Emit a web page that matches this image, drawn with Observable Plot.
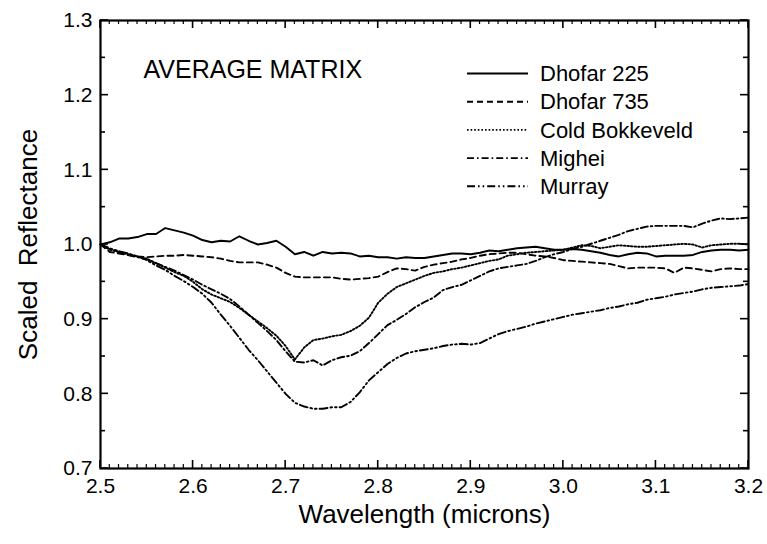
<!DOCTYPE html>
<html>
<head>
<meta charset="utf-8">
<script src="https://cdn.jsdelivr.net/npm/d3@7"></script>
<script src="https://cdn.jsdelivr.net/npm/@observablehq/plot@0.6"></script>
<style>
  body { margin: 0; background: white; }
</style>
</head>
<body>
<div id="chart"></div>
<script>
// ---- data ----
const wavelength = [
  2.50,2.51,2.52,2.53,2.54,2.55,2.56,2.57,2.58,2.59,
  2.60,2.61,2.62,2.63,2.64,2.65,2.66,2.67,2.68,2.69,
  2.70,2.71,2.72,2.73,2.74,2.75,2.76,2.77,2.78,2.79,
  2.80,2.81,2.82,2.83,2.84,2.85,2.86,2.87,2.88,2.89,
  2.90,2.91,2.92,2.93,2.94,2.95,2.96,2.97,2.98,2.99,
  3.00,3.01,3.02,3.03,3.04,3.05,3.06,3.07,3.08,3.09,
  3.10,3.11,3.12,3.13,3.14,3.15,3.16,3.17,3.18,3.19,3.20
];
const dhofar225 = [
  1.000,1.003,1.008,1.008,1.010,1.014,1.014,1.022,1.019,1.016,
  1.012,1.006,1.003,1.005,1.004,1.011,1.005,1.000,1.002,1.005,
  0.997,0.987,0.990,0.985,0.990,0.988,0.989,0.988,0.984,0.985,
  0.983,0.983,0.981,0.983,0.982,0.982,0.984,0.986,0.988,0.988,
  0.987,0.989,0.992,0.991,0.993,0.995,0.996,0.997,0.995,0.993,
  0.993,0.994,0.993,0.991,0.989,0.986,0.984,0.987,0.989,0.988,
  0.984,0.985,0.985,0.985,0.986,0.990,0.992,0.993,0.993,0.992,0.993
];
const dhofar735 = [
  1.000,0.990,0.988,0.986,0.984,0.983,0.984,0.985,0.985,0.986,
  0.985,0.984,0.983,0.981,0.978,0.976,0.976,0.976,0.973,0.969,
  0.962,0.957,0.956,0.956,0.956,0.956,0.954,0.953,0.954,0.955,
  0.957,0.963,0.968,0.967,0.965,0.970,0.973,0.975,0.977,0.980,
  0.982,0.985,0.987,0.988,0.989,0.989,0.987,0.985,0.984,0.982,
  0.979,0.978,0.977,0.976,0.975,0.974,0.971,0.968,0.969,0.969,
  0.969,0.968,0.962,0.969,0.968,0.966,0.964,0.967,0.968,0.967,0.967
];
const coldBokkeveld = [
  1.000,0.993,0.990,0.987,0.984,0.981,0.975,0.969,0.963,0.958,
  0.950,0.940,0.933,0.928,0.923,0.915,0.906,0.897,0.888,0.878,
  0.864,0.846,0.862,0.872,0.874,0.877,0.879,0.884,0.891,0.902,
  0.922,0.934,0.943,0.948,0.953,0.958,0.962,0.964,0.967,0.969,
  0.972,0.975,0.978,0.980,0.985,0.987,0.989,0.990,0.991,0.992,
  0.993,0.996,0.999,0.998,0.995,0.997,0.999,0.998,0.997,0.997,
  0.998,0.999,1.000,1.001,1.000,0.996,0.999,1.000,1.001,1.001,1.000
];
const mighei = [
  1.000,0.994,0.990,0.986,0.983,0.980,0.975,0.970,0.965,0.959,
  0.953,0.946,0.940,0.934,0.927,0.917,0.906,0.895,0.884,0.872,
  0.857,0.843,0.842,0.845,0.838,0.845,0.849,0.851,0.857,0.868,
  0.880,0.892,0.899,0.907,0.916,0.923,0.929,0.939,0.943,0.946,
  0.952,0.958,0.964,0.968,0.970,0.972,0.974,0.978,0.983,0.987,
  0.990,0.994,0.997,1.001,1.005,1.009,1.013,1.018,1.021,1.024,
  1.025,1.025,1.025,1.025,1.023,1.028,1.032,1.035,1.034,1.035,1.036
];
const murray = [
  1.000,0.995,0.991,0.988,0.984,0.979,0.972,0.966,0.958,0.951,
  0.943,0.934,0.922,0.906,0.891,0.875,0.859,0.845,0.830,0.815,
  0.800,0.788,0.783,0.780,0.780,0.782,0.782,0.789,0.802,0.818,
  0.829,0.840,0.848,0.854,0.857,0.859,0.861,0.864,0.866,0.867,
  0.866,0.868,0.874,0.880,0.884,0.887,0.890,0.894,0.897,0.900,
  0.903,0.906,0.908,0.910,0.912,0.915,0.917,0.920,0.922,0.926,
  0.928,0.930,0.933,0.935,0.937,0.940,0.942,0.943,0.944,0.945,0.947
];
const seriesNames = ["Dhofar 225", "Dhofar 735", "Cold Bokkeveld", "Mighei", "Murray"];
const seriesValues = [dhofar225, dhofar735, coldBokkeveld, mighei, murray];
const xTicks = [2.5, 2.6, 2.7, 2.8, 2.9, 3.0, 3.1, 3.2];
const yTicks = [0.7, 0.8, 0.9, 1.0, 1.1, 1.2, 1.3];
const xDomain = [2.5, 3.2];
const yDomain = [0.7, 1.3];
const xLabel = "Wavelength (microns)";
const yLabel = "Scaled  Reflectance";
const annotation = "AVERAGE MATRIX";

// ---- styles ----
const FONT = "'Liberation Sans', Arial, sans-serif";
const dashes = [null, "6,4", "1.6,2", "7,3,1.6,3", "8,3,1.6,3,1.6,3"];
const W = 767, H = 544, mL = 100, mR = 19, mT = 20, mB = 76;

const xMinor = d3.range(250, 321).map(d => d / 100).filter(d => !xTicks.some(t => Math.abs(t - d) < 1e-9));
const yMinor = d3.range(70, 131, 5).map(d => d / 100).filter(d => !yTicks.some(t => Math.abs(t - d) < 1e-9));

const lineMarks = seriesValues.map((vals, i) =>
  Plot.line(wavelength.map((w, j) => ({w, r: vals[j]})), {
    x: "w", y: "r", stroke: "#000", strokeWidth: 1.9,
    strokeDasharray: dashes[i] || undefined
  })
);

const plot = Plot.plot({
  width: W, height: H,
  marginLeft: mL, marginRight: mR, marginTop: mT, marginBottom: mB,
  x: {domain: xDomain},
  y: {domain: yDomain},
  style: {fontFamily: FONT, fontSize: "21px"},
  marks: [
    ...lineMarks,
    Plot.frame({stroke: "#000", strokeWidth: 2.2}),
    Plot.axisX({ticks: xTicks, tickSize: 0, tickPadding: 10, tickFormat: d3.format(".1f"), label: null, fontSize: 21}),
    Plot.axisY({ticks: yTicks, tickSize: 0, tickPadding: 8, tickFormat: d3.format(".1f"), label: null, fontSize: 21}),
    Plot.text([xLabel], {text: d => d, frameAnchor: "bottom", dy: 54, fontSize: 26, textAnchor: "middle"}),
    Plot.text([yLabel], {text: d => d, frameAnchor: "left", dx: -72, rotate: -90, fontSize: 26, textAnchor: "middle"}),
    Plot.text([annotation], {text: d => d, frameAnchor: "top-left", dx: 43, dy: 40, fontSize: 25, textAnchor: "start"})
  ]
});

// inward ticks on all four sides, placed with the plot's own scales
const sx = plot.scale("x"), sy = plot.scale("y");
const X = v => sx.apply(v), Y = v => sy.apply(v);
const x0 = X(xDomain[0]), x1 = X(xDomain[1]), y0 = Y(yDomain[0]), y1 = Y(yDomain[1]);
const svg = d3.select(plot);
const deco = svg.append("g");
function tick(xa, ya, xb, yb, w) {
  deco.append("line").attr("x1", xa).attr("y1", ya).attr("x2", xb).attr("y2", yb)
    .attr("stroke", "#000").attr("stroke-width", w);
}
xMinor.forEach(v => { tick(X(v), y0, X(v), y0 - 4, 1.2); tick(X(v), y1, X(v), y1 + 4, 1.2); });
xTicks.forEach(v => { tick(X(v), y0, X(v), y0 - 8, 1.6); tick(X(v), y1, X(v), y1 + 8, 1.6); });
yMinor.forEach(v => { tick(x0, Y(v), x0 + 5, Y(v), 1.6); tick(x1, Y(v), x1 - 5, Y(v), 1.6); });
yTicks.forEach(v => { tick(x0, Y(v), x0 + 8, Y(v), 1.6); tick(x1, Y(v), x1 - 8, Y(v), 1.6); });

// legend (inside the plot area, top right)
const leg = svg.append("g").attr("font-family", FONT).attr("font-size", 22).attr("text-anchor", "start");
seriesNames.forEach((name, i) => {
  const cy = 73.5 + i * 28.2;
  leg.append("line")
    .attr("x1", 467).attr("x2", 528).attr("y1", cy).attr("y2", cy)
    .attr("stroke", "#000").attr("stroke-width", 1.9)
    .attr("stroke-dasharray", dashes[i] || null);
  leg.append("text")
    .attr("x", 540).attr("y", cy).attr("dy", "0.35em")
    .attr("text-anchor", "start")
    .attr("fill", "#000").text(name);
});

document.getElementById("chart").appendChild(plot);
</script>
</body>
</html>
